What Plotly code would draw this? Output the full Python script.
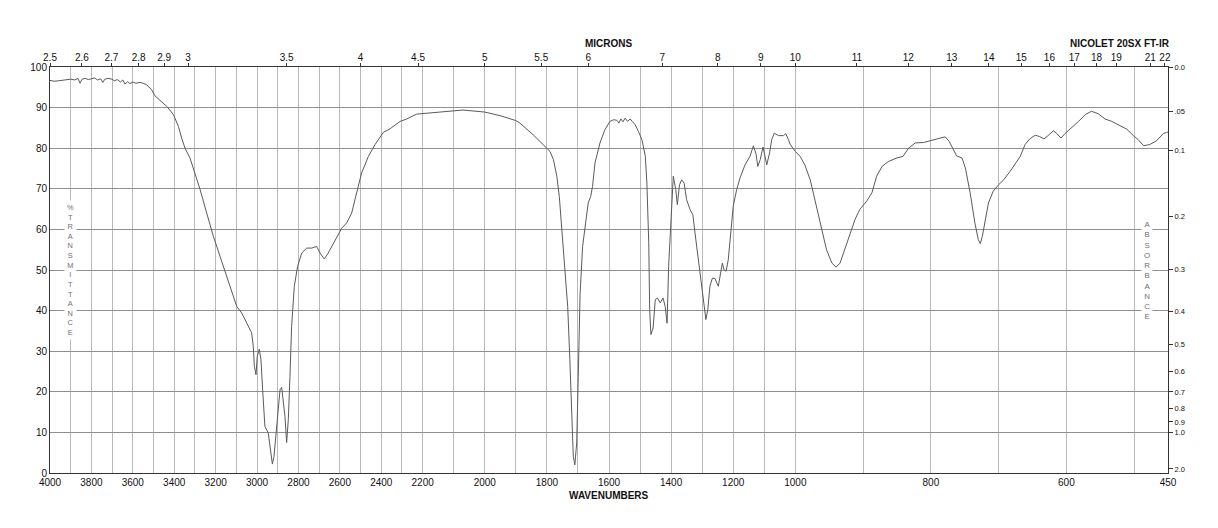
import numpy as np
import plotly.graph_objects as go

# ---------------- data ----------------
wavenumber = [
    4000, 3980, 3960, 3940, 3920, 3900, 3880, 3865, 3855, 3845, 3830, 3815, 3800, 3785,
    3770, 3755, 3745, 3735, 3720, 3700, 3690, 3675, 3660, 3648, 3638, 3625, 3614, 3600,
    3585, 3565, 3550, 3533, 3509, 3493, 3469, 3436, 3404, 3380, 3364, 3348, 3324, 3300,
    3275, 3243, 3211, 3179, 3146, 3122, 3098, 3074, 3050, 3026, 3018, 3013, 3005, 2999,
    2989, 2981, 2973, 2962, 2946, 2937, 2926, 2918, 2908, 2897, 2889, 2881, 2873, 2865,
    2857, 2849, 2841, 2833, 2820, 2804, 2784, 2760, 2736, 2712, 2696, 2675, 2656, 2623,
    2591, 2567, 2543, 2519, 2495, 2462, 2430, 2390, 2357, 2309, 2277, 2229, 2166, 2117,
    2070, 2000, 1950, 1900, 1887, 1844, 1811, 1790, 1779, 1768, 1760, 1752, 1742, 1733,
    1726, 1720, 1715, 1710, 1704, 1699, 1693, 1685, 1677, 1667, 1659, 1653, 1645, 1629,
    1613, 1597, 1585, 1575, 1568, 1562, 1555, 1548, 1540, 1532, 1525, 1516, 1505, 1494,
    1483, 1478, 1472, 1469, 1465, 1461, 1458, 1451, 1444, 1435, 1426, 1419, 1413, 1408,
    1400, 1393, 1385, 1380, 1373, 1366, 1358, 1350, 1339, 1330, 1323, 1312, 1301, 1294,
    1288, 1282, 1275, 1267, 1259, 1248, 1240, 1235, 1230, 1223, 1216, 1208, 1200, 1189,
    1178, 1162, 1146, 1135, 1126, 1121, 1113, 1104, 1097, 1092, 1083, 1076, 1068, 1054,
    1038, 1031, 1022, 1017, 1008, 1000, 993, 986, 978, 971, 964, 959, 954, 946,
    940, 934, 927, 919, 912, 905, 895, 887, 880, 872, 863, 850, 841, 833,
    823, 811, 796, 786, 779, 773, 767, 762, 754, 749, 742, 735, 730, 727,
    724, 720, 715, 708, 700, 693, 683, 668, 661, 654, 646, 640, 633, 627,
    619, 614, 608, 602, 592, 582, 572, 563, 553, 543, 533, 523, 511, 501,
    494, 486, 477, 467, 457, 452, 450,
]
transmittance = [
    96.7, 96.5, 96.6, 96.7, 96.9, 97.0, 96.8, 97.2, 96.0, 97.0, 97.2, 96.9, 97.1, 97.3,
    96.8, 97.1, 96.2, 97.0, 97.2, 97.0, 96.6, 96.9, 96.3, 96.8, 95.8, 96.4, 95.9, 96.3,
    96.0, 96.2, 96.0, 95.6, 94.4, 92.9, 91.8, 90.3, 88.3, 85.4, 82.5, 80.0, 77.6, 73.9,
    69.8, 64.0, 58.3, 53.4, 48.4, 44.3, 41.0, 39.4, 36.9, 34.5, 31.2, 26.3, 24.2, 28.7,
    30.5, 27.9, 20.5, 11.5, 9.9, 5.7, 2.2, 4.1, 9.9, 15.6, 20.5, 21.1, 17.2, 13.9,
    7.5, 13.1, 23.8, 36.1, 46.0, 50.9, 54.2, 55.4, 55.4, 55.8, 54.2, 52.7, 54.2, 57.5,
    60.3, 61.6, 64.0, 69.0, 73.9, 78.0, 80.9, 83.9, 84.8, 86.6, 87.2, 88.4, 88.8, 89.2,
    89.4, 88.9, 88.0, 86.8, 86.2, 83.3, 80.9, 79.2, 77.2, 73.1, 68.1, 59.9, 50.9, 41.0,
    27.9, 11.5, 4.1, 2.0, 7.4, 23.8, 44.3, 55.8, 60.7, 66.5, 68.1, 70.6, 76.4, 81.3,
    84.6, 86.6, 87.0, 86.9, 86.2, 87.2, 86.5, 87.4, 86.6, 87.2, 86.6, 85.8, 84.1, 82.1,
    78.0, 71.4, 56.7, 40.2, 34.1, 35.0, 35.7, 42.7, 43.1, 41.9, 43.1, 41.0, 36.9, 50.9,
    64.9, 73.1, 69.8, 66.1, 71.0, 72.2, 71.4, 67.3, 64.9, 63.6, 59.1, 52.5, 45.1, 41.0,
    37.8, 40.2, 46.0, 48.0, 47.9, 46.0, 49.3, 51.7, 50.1, 49.7, 52.5, 59.1, 65.7, 69.8,
    72.7, 75.9, 78.0, 80.6, 78.4, 75.5, 77.2, 80.3, 78.0, 75.9, 78.8, 82.1, 83.7, 83.1,
    83.1, 83.6, 82.1, 81.0, 80.0, 79.2, 78.0, 75.9, 72.2, 67.3, 62.0, 58.3, 55.0, 51.7,
    50.7, 51.7, 55.0, 59.1, 62.4, 64.9, 66.9, 69.0, 73.1, 75.5, 76.7, 77.6, 78.0, 80.0,
    81.3, 81.4, 82.1, 82.5, 82.8, 81.7, 79.6, 78.1, 77.6, 75.1, 69.0, 61.6, 57.5, 56.5,
    58.3, 62.4, 66.5, 69.4, 71.0, 72.1, 74.3, 78.0, 80.9, 82.3, 83.2, 82.9, 82.3, 83.1,
    84.3, 83.6, 82.5, 83.6, 85.0, 86.6, 88.3, 89.1, 88.5, 87.2, 86.6, 85.8, 84.7, 83.1,
    82.1, 80.6, 80.9, 81.8, 83.6, 83.9, 84.0,
]

wn_tick_labels = [4000, 3800, 3600, 3400, 3200, 3000, 2800, 2600, 2400, 2200, 2000,
                  1800, 1600, 1400, 1200, 1000, 800, 600, 450]
micron_values = [2.5, 2.6, 2.7, 2.8, 2.9, 3, 3.5, 4, 4.5, 5, 5.5, 6, 7, 8, 9, 10,
                 11, 12, 13, 14, 15, 16, 17, 18, 19, 21, 22]
micron_labels = ["2.5", "2.6", "2.7", "2.8", "2.9", "3", "3.5", "4", "4.5", "5", "5.5",
                 "6", "7", "8", "9", "10", "11", "12", "13", "14", "15", "16", "17",
                 "18", "19", "21", "22"]
absorbance_values = [0.0, 0.05, 0.1, 0.2, 0.3, 0.4, 0.5, 0.6, 0.7, 0.8, 0.9, 1.0, 2.0]
absorbance_labels = ["0.0", ".05", "0.1", "0.2", "0.3", "0.4", "0.5", "0.6", "0.7",
                     "0.8", "0.9", "1.0", "2.0"]

# piecewise-linear wavenumber scale (three equal-width sections)
BREAK_WN = [4000, 2200, 1000, 450]
BREAK_POS = [0, 1, 2, 3]


def wn_to_pos(w):
    return np.interp(-np.asarray(w, dtype=float), [-b for b in BREAK_WN], BREAK_POS)


grid_wn = list(range(4000, 449, -100)) + [450]
bottom_vals = wn_to_pos(grid_wn)
bottom_text = [str(w) if w in wn_tick_labels else "" for w in grid_wn]
top_vals = wn_to_pos([10000.0 / m for m in micron_values])
right_vals = [100 * 10 ** (-a) for a in absorbance_values]

FONT = "Liberation Sans, Arial, Helvetica, sans-serif"
AX = "#333333"

fig = go.Figure()
fig.add_trace(go.Scatter(
    x=wn_to_pos(wavenumber), y=transmittance, mode="lines",
    line=dict(color="#5a5a5a", width=1), hoverinfo="skip", showlegend=False,
))
fig.add_trace(go.Scatter(
    x=[0, 3], y=[0, 100], xaxis="x2", yaxis="y2", mode="markers",
    marker=dict(size=1, opacity=0), hoverinfo="skip", showlegend=False,
))

fig.update_layout(
    width=1218, height=528,
    margin=dict(l=50, r=50, t=67, b=55),
    paper_bgcolor="white", plot_bgcolor="white",
    font=dict(family=FONT, size=10, color="#111111"),
    xaxis=dict(range=[0, 3], tickmode="array", tickvals=bottom_vals, ticktext=bottom_text,
               showgrid=True, gridcolor="#b8b8b8", gridwidth=1, ticks="",
               showline=True, linecolor=AX, linewidth=1, zeroline=False,
               tickfont=dict(size=10)),
    xaxis2=dict(range=[0, 3], overlaying="x", side="top", anchor="y",
                tickmode="array", tickvals=top_vals, ticktext=micron_labels,
                showgrid=False, ticks="outside", ticklen=3, tickcolor=AX,
                ticklabelstandoff=-2,
                showline=True, linecolor=AX, linewidth=1, zeroline=False,
                tickfont=dict(size=10)),
    yaxis=dict(range=[0, 100], tickmode="array", tickvals=list(range(0, 101, 10)),
               showgrid=True, gridcolor="#8f8f8f", gridwidth=1, ticks="",
               showline=True, linecolor=AX, linewidth=1, zeroline=False,
               tickfont=dict(size=10)),
    yaxis2=dict(range=[0, 100], overlaying="y", side="right", anchor="x",
                tickmode="array", tickvals=right_vals, ticktext=absorbance_labels,
                showgrid=False, ticks="outside", ticklen=4, tickcolor=AX,
                showline=True, linecolor=AX, linewidth=1, zeroline=False,
                tickfont=dict(size=7.5)),
)

common = dict(xref="paper", yref="paper", showarrow=False, xanchor="center", yanchor="middle")
fig.add_annotation(text="<b>MICRONS</b>", x=0.5, y=1.057,
                   font=dict(size=10, color="#111111"), **common)
fig.add_annotation(text="<b>NICOLET 20SX FT-IR</b>", x=0.9575, y=1.057,
                   font=dict(size=10, color="#111111"), **common)
fig.add_annotation(text="<b>WAVENUMBERS</b>", x=0.5, y=-0.056,
                   font=dict(size=10, color="#111111"), **common)
fig.add_annotation(text="<br>".join(list("%TRANSMITTANCE")), x=0.0183, y=0.4995,
                   bgcolor="white", borderpad=2, font=dict(size=7.4, color="#707070"),
                   **common)
fig.add_annotation(text="<br>".join(list("ABSORBANCE")), x=0.9815, y=0.4995,
                   bgcolor="white", borderpad=2, font=dict(size=7.9, color="#707070"),
                   **common)

fig.write_html("out.html")
